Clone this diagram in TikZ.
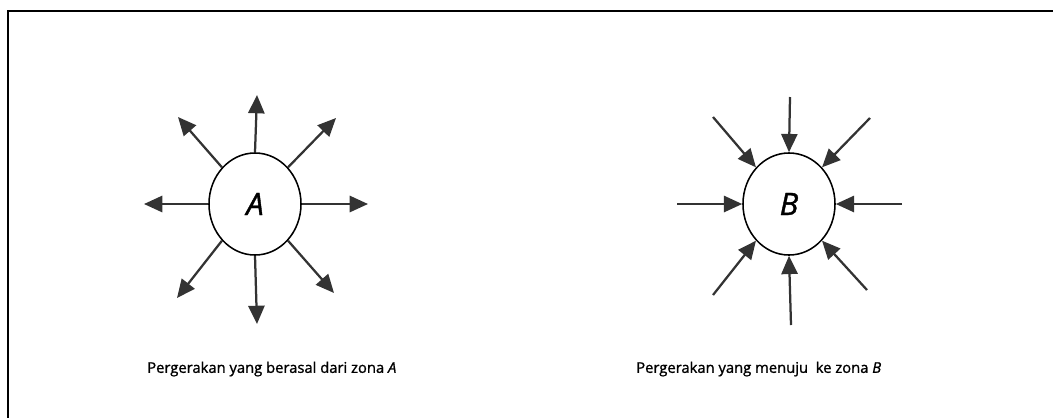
\documentclass[tikz,border=0pt]{standalone}
\usepackage{fontspec}
\setmainfont{Open Sans}
\newfontfamily\capfont{Open Sans}[FakeBold=1.2]
\usetikzlibrary{arrows.meta,shapes.geometric}

\tikzset{
  zone/.style={draw,ellipse,line width=1.1pt,minimum width=2.3cm,minimum height=2.55cm,inner sep=0pt,font=\capfont\fontsize{22}{26}\selectfont\itshape},
  flow/.style={line width=1.6pt,draw=black!80,-{Triangle[length=13pt,width=11.5pt]}},
  caption/.style={anchor=west,inner sep=0pt,font=\capfont\fontsize{10.5}{13}\selectfont}
}

\begin{document}
\begin{tikzpicture}[x=0.025cm,y=-0.025cm]
  \useasboundingbox (0,0) rectangle (1053,417);
  \draw [line width=1.2pt] (8,440) -- (8,11) -- (1070,11);

  % zone A: movements going out
  \node [zone] (A) at (255,204) {A};
  \coordinate (an) at (257,95);
  \coordinate (as) at (257,324);
  \coordinate (aw) at (144,204);
  \coordinate (ae) at (368,204);
  \coordinate (anw) at (178,117);
  \coordinate (ane) at (336,118);
  \coordinate (asw) at (177,298);
  \coordinate (ase) at (334,293);
  \draw [flow] (A.north) -- (an);
  \draw [flow] (A.south) -- (as);
  \draw [flow] (A.west) -- (aw);
  \draw [flow] (A.east) -- (ae);
  \draw [flow] (A.132) -- (anw);
  \draw [flow] (A.48) -- (ane);
  \draw [flow] (A.228) -- (asw);
  \draw [flow] (A.-48) -- (ase);

  % zone B: movements coming in
  \node [zone] (B) at (789,204) {B};
  \coordinate (bn) at (790,97);
  \coordinate (bs) at (791,325);
  \coordinate (bw) at (677,204);
  \coordinate (be) at (902,204);
  \coordinate (bnw) at (713,117);
  \coordinate (bne) at (870,118);
  \coordinate (bsw) at (713,295);
  \coordinate (bse) at (867,290);
  \draw [flow] (bn) -- (B.north);
  \draw [flow] (bs) -- (B.south);
  \draw [flow] (bw) -- (B.west);
  \draw [flow] (be) -- (B.east);
  \draw [flow] (bnw) -- (B.132);
  \draw [flow] (bne) -- (B.48);
  \draw [flow] (bsw) -- (B.228);
  \draw [flow] (bse) -- (B.-48);

  \node [caption] (capA) at (147,369) {Pergerakan yang berasal dari zona \textit{A}};
  \node [caption] (capB) at (636,369) {Pergerakan yang menuju\ \ ke zona \textit{B}};
\end{tikzpicture}
\end{document}
